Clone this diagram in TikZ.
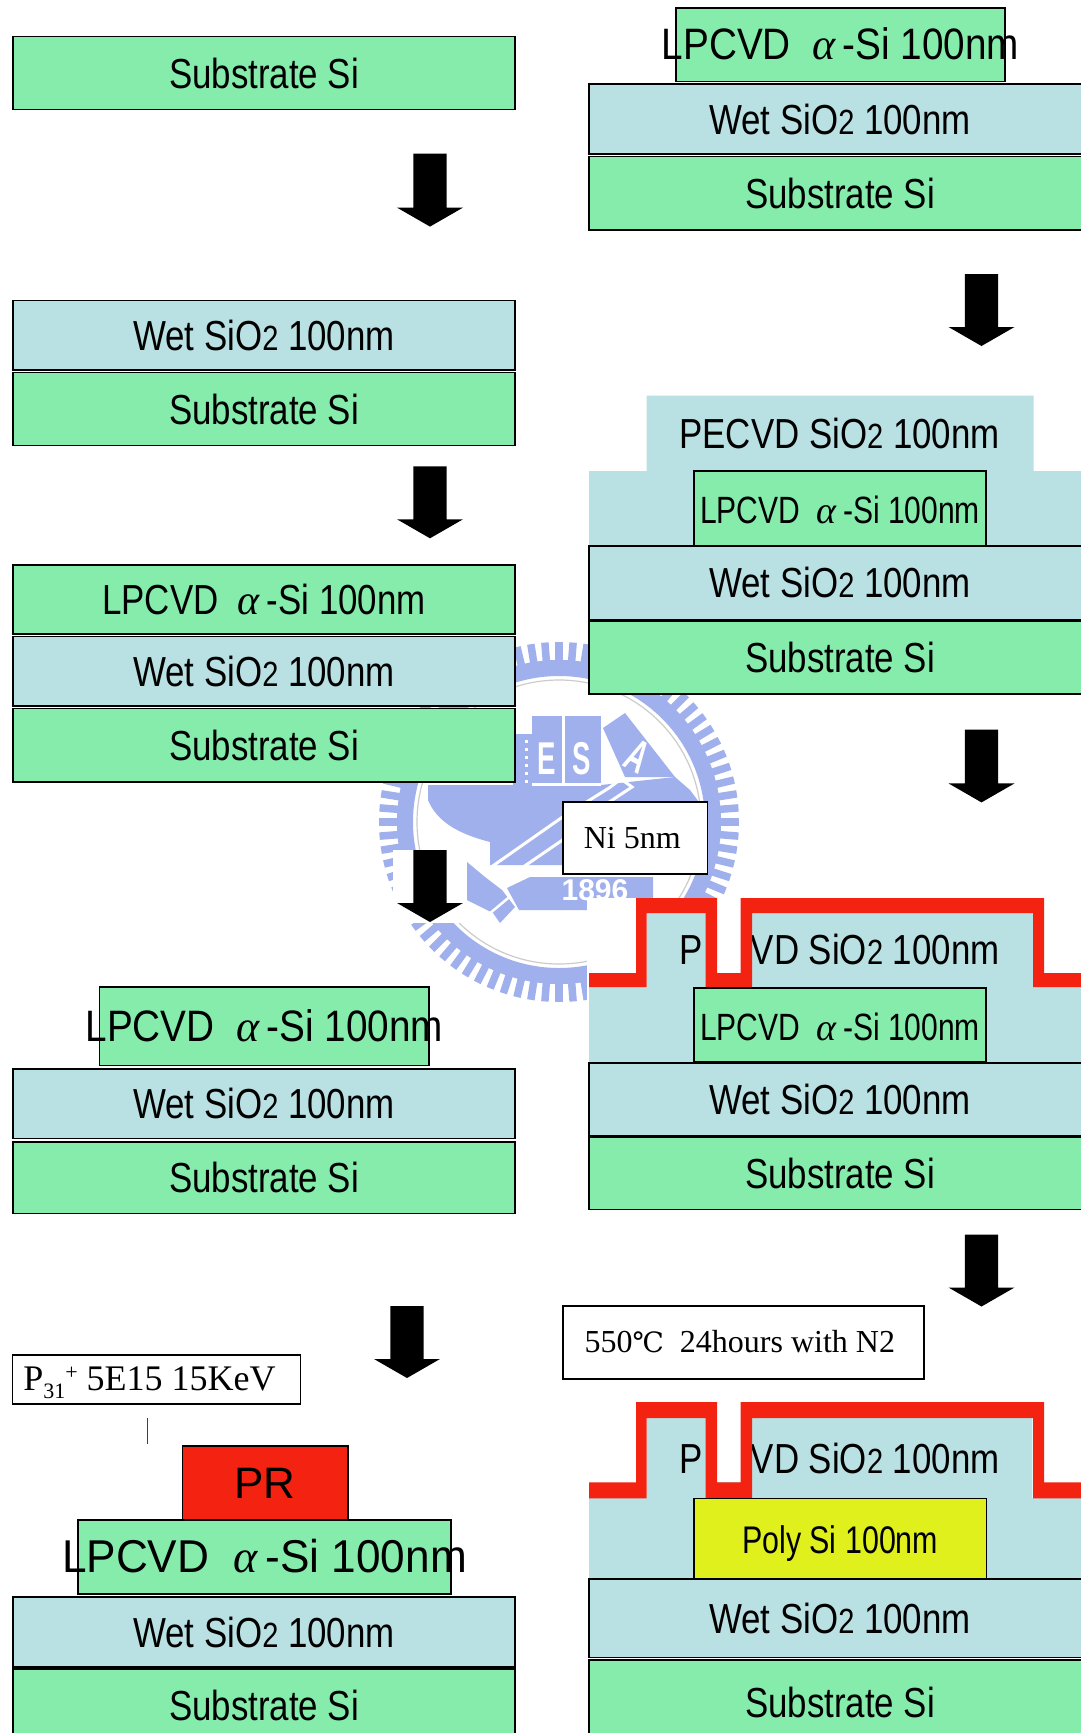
\documentclass[tikz,border=0pt]{standalone}
\usepackage{fontspec}
\setmainfont{Liberation Sans}
\newfontfamily\fS[FakeStretch=0.79]{Liberation Sans}
\newfontfamily\fA[FakeStretch=0.83]{Liberation Sans}
\newfontfamily\fB[FakeStretch=0.88]{Liberation Sans}
\newfontfamily\fC[FakeStretch=0.96]{Liberation Sans}
\newfontfamily\fL[FakeStretch=0.6]{Liberation Sans}
\newfontfamily\fT{Liberation Serif}
\newfontfamily\fDS{DejaVu Serif}
\definecolor{sigreen}{RGB}{133,236,172}
\definecolor{oxblue}{RGB}{185,224,226}
\definecolor{redfilm}{RGB}{244,34,17}
\definecolor{polyy}{RGB}{223,240,28}
\definecolor{logob}{RGB}{160,176,236}
\tikzset{
  layerbox/.style={draw=black,line width=1.4pt,inner sep=0pt,outer sep=0pt,text height=30pt,text depth=0pt,align=center},
  green/.style={layerbox,fill=sigreen},
  oxide/.style={layerbox,fill=oxblue},
  note/.style={draw=black,line width=1.8pt,fill=white,inner sep=0pt,outer sep=0pt,font=\fT\fontsize{32}{36}\selectfont},
  big/.style={font=\fA\fontsize{42}{48}\selectfont},
  logotext/.style={text=white,font=\fL\fontsize{46}{46}\selectfont\bfseries,inner sep=0pt},
  band/.style={white,line width=3pt},
}
% name x1 y1 x2 y2 style text
\newcommand{\layerbox}[7]{%
  \pgfmathsetmacro{\lw}{#4-#2}\pgfmathsetmacro{\lh}{#5-#3}%
  \pgfmathsetmacro{\lx}{(#2+#4)/2}\pgfmathsetmacro{\ly}{(#3+#5)/2}%
  \node[#6,minimum width=\lw pt,minimum height=\lh pt] (#1) at (\lx,\ly) {\makebox[0pt][c]{#7}};}
\newcommand{\fatarrow}[3]{% centre x, top y, tip y
  \pgfmathsetmacro{\sh}{#3-19}%
  \fill[black] (#1-16.6,#2) -- (#1+16.6,#2) -- (#1+16.6,\sh) -- (#1+33,\sh) -- (#1,#3) -- (#1-33,\sh) -- (#1-16.6,\sh) -- cycle;}
\newcommand{\redfilmline}[4]{% top, inner top, step, bottom
  \fill[white] (717,#1) rectangle (740.5,#3);
  \fill[redfilm] (589,#3) -- (636,#3) -- (636,#1) -- (717,#1) -- (717,#3) -- (740.5,#3) -- (740.5,#1) -- (1044,#1) -- (1044,#3) -- (1095,#3) -- (1095,#4) -- (1033,#4) -- (1033,#2) -- (752,#2) -- (752,#4) -- (705.5,#4) -- (705.5,#2) -- (646.7,#2) -- (646.7,#4) -- (589,#4) -- cycle;}
\newcommand{\lpcvd}{LPCVD\ \ {\fT\itshape α}\,-Si 100nm}
\newcommand{\wet}{Wet SiO{\fontsize{35}{35}\selectfont 2} 100nm}
\newcommand{\pecvd}{PECVD SiO{\fontsize{35}{35}\selectfont 2} 100nm}
\newcommand{\pecvdcut}{P\kern6pt{\fontsize{34}{34}\selectfont EC}\kern3pt VD SiO{\fontsize{35}{35}\selectfont 2} 100nm}
\begin{document}
\begin{tikzpicture}[x=1pt,y=-1pt]
\useasboundingbox (0,0) rectangle (1081,1733);
\fill[white] (0,0) rectangle (1081,1733);
\clip (0,0) rectangle (1081,1733);
% ---- watermark seal
\begin{scope}[shift={(559,822)}]
  \foreach \a in {0,4.5,...,355.5} \draw[logob,line width=7.5pt] (\a:160) -- (\a:180);
  \draw[logob,line width=16pt] (0,0) circle (154);
  \draw[gray!40,line width=1.2pt] (0,0) circle (142);
  % bowl
  \fill[logob] (-131,-37) -- (-131,-22) .. controls (-122,0) and (-100,12) .. (-69,20) -- (-69,43) -- (50,43) -- (140,-20) -- (131,-32) -- (116,-45) -- (42,-37) -- cycle;
  % blocks
  \fill[logob] (-46,-88) rectangle (-27,-37);
  \foreach \yy in {-82,-74,...,-42} \fill[white] (-34,\yy) rectangle (-31,\yy+3);
  \fill[logob] (-27,-106) rectangle (3,-39);
  \fill[logob] (6,-106) rectangle (42,-39);
  \fill[logob] (44,-94) -- (66,-109) -- (116,-45) -- (66,-45) -- cycle;
  \fill[white] (-27,-39) rectangle (42,-36);
  % swords
  \draw[band] (-72,48) -- (5,-6) -- (50,-34) -- (62,-43) -- (73,-35) -- (20,0);
  \draw[band] (-58,60) -- (-30,41) -- (5,17);
  \fill[logob] (-92,40) -- (-74,55) -- (-57,68) -- (-44,85) -- (-59,101) -- (-66,91) -- (-92,78) -- cycle;
  \draw[white,line width=2.5pt] (-70,92) -- (-46,72);
  % banner
  \fill[logob] (-52,66) -- (-29,55) -- (94,55) -- (94,88) -- (-40,88) -- cycle;
  \node[logotext] (logoE) at (-12.5,-63) {E};
  \node[logotext] (logoS) at (23,-63) {S};
  \node[logotext,rotate=-28] (logoA) at (79,-66) {A};
  \node[logotext,font=\fontsize{30}{30}\selectfont\bfseries] (logoY) at (36,68) {1896};
\end{scope}
\fill[white] (393,850) rectangle (463,923);
\fill[white] (587,898) rectangle (1081,1010);
% ---- left column
\layerbox{a1s}{13}{36.5}{515}{109.5}{green,big}{Substrate Si}
\fatarrow{430}{153.6}{226.6}
\layerbox{b1w}{13}{300.6}{515}{370}{oxide,big}{\wet}
\layerbox{b1s}{13}{372.5}{515}{445.5}{green,big}{Substrate Si}
\fatarrow{430}{466.4}{538.3}
\layerbox{c1l}{13}{565}{515}{634}{green,big}{\lpcvd}
\layerbox{c1w}{13}{636.5}{515}{706}{oxide,big}{\wet}
\layerbox{c1s}{13}{708.5}{515}{782}{green,big}{Substrate Si}
\fatarrow{430}{850}{922}
\layerbox{d1l}{99.5}{987}{429}{1065.5}{green,font=\fB\fontsize{44}{48}\selectfont}{\lpcvd}
\layerbox{d1w}{13}{1069}{515}{1138.5}{oxide,big}{\wet}
\layerbox{d1s}{13}{1142}{515}{1213.6}{green,big}{Substrate Si}
\fatarrow{407}{1306}{1378}
\node[draw=black,line width=1.2pt,fill=white,inner sep=0pt,outer sep=0pt,minimum width=288pt,minimum height=49pt,text height=24pt,text depth=3pt,font=\fT\fontsize{36}{38}\selectfont] (p31) at (156.5,1379.5) {\hspace*{-14pt}P\raisebox{-8pt}{\fontsize{22}{22}\selectfont 31}\raisebox{11pt}{\fontsize{22}{22}\selectfont +}\ 5E15 15KeV};
\coordinate (ticktop) at (147.5,1418);
\coordinate (tickbot) at (147.5,1444);
\draw[black!75,line width=1.2pt] (ticktop) -- (tickbot);
\layerbox{e1r}{182.4}{1446}{348}{1520}{layerbox,fill=redfilm,font=\fontsize{44}{48}\selectfont}{PR}
\layerbox{e1l}{78}{1520}{451}{1594}{green,font=\fC\fontsize{46}{48}\selectfont}{\lpcvd}
\layerbox{e1w}{13}{1597}{515}{1667}{oxide,big}{\wet}
\layerbox{e1s}{13}{1669}{515}{1742}{green,big}{Substrate Si}
% ---- right column
\layerbox{f1l}{676}{8}{1005}{81.7}{green,font=\fB\fontsize{44}{48}\selectfont}{\lpcvd}
\layerbox{f1w}{589}{84}{1091}{154}{oxide,big}{\wet}
\layerbox{f1s}{589}{156.7}{1091}{230}{green,big}{Substrate Si}
\fatarrow{981.5}{274}{346}
% PECVD stack
\fill[oxblue] (589,546) -- (589,471) -- (646.6,471) -- (646.6,395.7) -- (1033.5,395.7) -- (1033.5,471) -- (1095,471) -- (1095,546) -- cycle;
\node[big,inner sep=0pt,text height=30pt,text depth=0pt] (g1t) at (839.5,433) {\pecvd};
\layerbox{g1l}{694}{471}{986}{546}{green,font=\fS\fontsize{38}{44}\selectfont}{\lpcvd}
\layerbox{g1w}{589}{546}{1091}{619.5}{oxide,big}{\wet}
\layerbox{g1s}{589}{621}{1091}{694}{green,big}{Substrate Si}
\fatarrow{981.5}{729.5}{802.4}
% Ni stack
\fill[oxblue] (589,1062) -- (589,987) -- (646.7,987) -- (646.7,913) -- (1033,913) -- (1033,987) -- (1095,987) -- (1095,1062) -- cycle;
\node[big,inner sep=0pt,text height=30pt,text depth=0pt] (h1t) at (839.5,949.5) {\pecvdcut};
\redfilmline{898}{913}{973}{987}
\layerbox{h1l}{694}{988}{986}{1062}{green,font=\fS\fontsize{38}{44}\selectfont}{\lpcvd}
\layerbox{h1w}{589}{1063}{1091}{1135.5}{oxide,big}{\wet}
\layerbox{h1s}{589}{1137}{1091}{1209.5}{green,big}{Substrate Si}
\node[note,minimum width=144.5pt,minimum height=72pt] (ni) at (635.3,838) {\hspace*{-6pt}Ni 5nm};
\fatarrow{981.5}{1234.6}{1306.5}
\node[note,minimum width=361pt,minimum height=73pt] (anneal) at (743.3,1342.5) {\raisebox{2pt}{\hspace*{-7pt}550{\fDS\fontsize{28}{28}\selectfont ℃}\ \ 24hours with N2}};
% Poly stack
\fill[oxblue] (589,1579) -- (589,1498) -- (646.7,1498) -- (646.7,1418) -- (1032.3,1418) -- (1032.3,1498) -- (1095,1498) -- (1095,1579) -- cycle;
\node[big,inner sep=0pt,text height=30pt,text depth=0pt] (i1t) at (839.5,1458) {\pecvdcut};
\redfilmline{1402}{1418}{1482.3}{1498.3}
\layerbox{i1l}{694}{1498.3}{986.3}{1579}{layerbox,fill=polyy,font=\fS\fontsize{38.5}{44}\selectfont}{Poly Si 100nm}
\layerbox{i1w}{589}{1579}{1091}{1657.5}{oxide,big}{\wet}
\layerbox{i1s}{589}{1660}{1091}{1745}{green,big}{Substrate Si}
\end{tikzpicture}
\end{document}
